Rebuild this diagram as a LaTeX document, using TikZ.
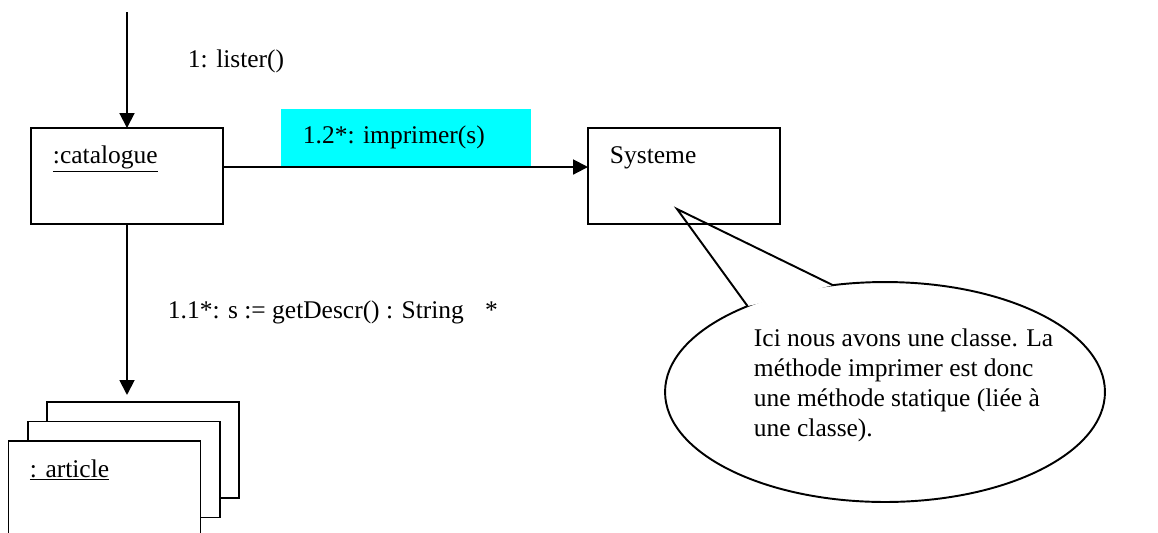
\documentclass[tikz,border=0pt]{standalone}
\usepackage{fontspec}
\setmainfont{Liberation Serif}
\usetikzlibrary{arrows.meta,shapes.geometric}
\definecolor{msgcyan}{RGB}{0,255,255}

\begin{document}
\begin{tikzpicture}[x=0.02cm,y=-0.02cm,line width=1.1pt,>={Triangle[width=8.5pt,length=8.5pt]},
    obj/.style={draw,rectangle,minimum width=3.84cm,minimum height=1.92cm,inner sep=0pt,outer sep=0pt},
    txt/.style={inner sep=0pt,anchor=base west,font=\fontsize{14.5}{17}\selectfont}]
    \useasboundingbox (0,0) rectangle (1158,532);

    % callout first, so the Systeme border stays on top
    \node[ellipse,draw,fill=white,minimum width=8.8cm,minimum height=4.4cm,inner sep=0pt,outer sep=0pt] (note) at (885,392) {};
    \coordinate (tip) at (677,209);
    \fill[white] (note.148) -- (tip) -- (note.116) -- cycle;
    \draw (note.148) -- (tip) -- (note.116);
    % base of a multi-line node is its last line
    \node[txt,align=left] (notetxt) at (753,436) {Ici nous avons une classe. La\\m\'ethode imprimer est donc\\une m\'ethode statique (li\'ee \`a\\une classe).};

    \node[obj] (cat) at (127,176) {};
    \node[obj] (sys) at (684,176) {};
    \node[txt] (catlbl) at (52,163) {\underline{:catalogue}};
    \node[txt] (syslbl) at (609,163) {Systeme};

    % article stack
    \node[obj,fill=white] (back) at (143,450) {};
    \node[obj,fill=white] (mid) at (124,469.5) {};
    \node[obj,fill=white] (front) at (104.5,489) {};
    \node[txt] (artlbl) at (29,477) {\underline{: article}};

    % messages
    \coordinate (start) at (127,12);
    \draw[->] (start) -- (cat.north);
    \node[txt] (listerlbl) at (187,67) {1: lister()};

    \node[fill=msgcyan,minimum width=5cm,minimum height=1.16cm,inner sep=0pt] (msgbg) at (406,138) {};
    \node[txt] (msglbl) at (302,143) {1.2*: imprimer(s)};
    \draw[->] ([yshift=0.18cm]cat.east) -- ([yshift=0.18cm]sys.west);

    \draw[->,shorten >=4pt] (cat.south) -- (cat.south |- back.north);
    \node[txt] (getlbl) at (167,318) {1.1*: s := getDescr() : String\hspace{12pt}*};
\end{tikzpicture}
\end{document}
